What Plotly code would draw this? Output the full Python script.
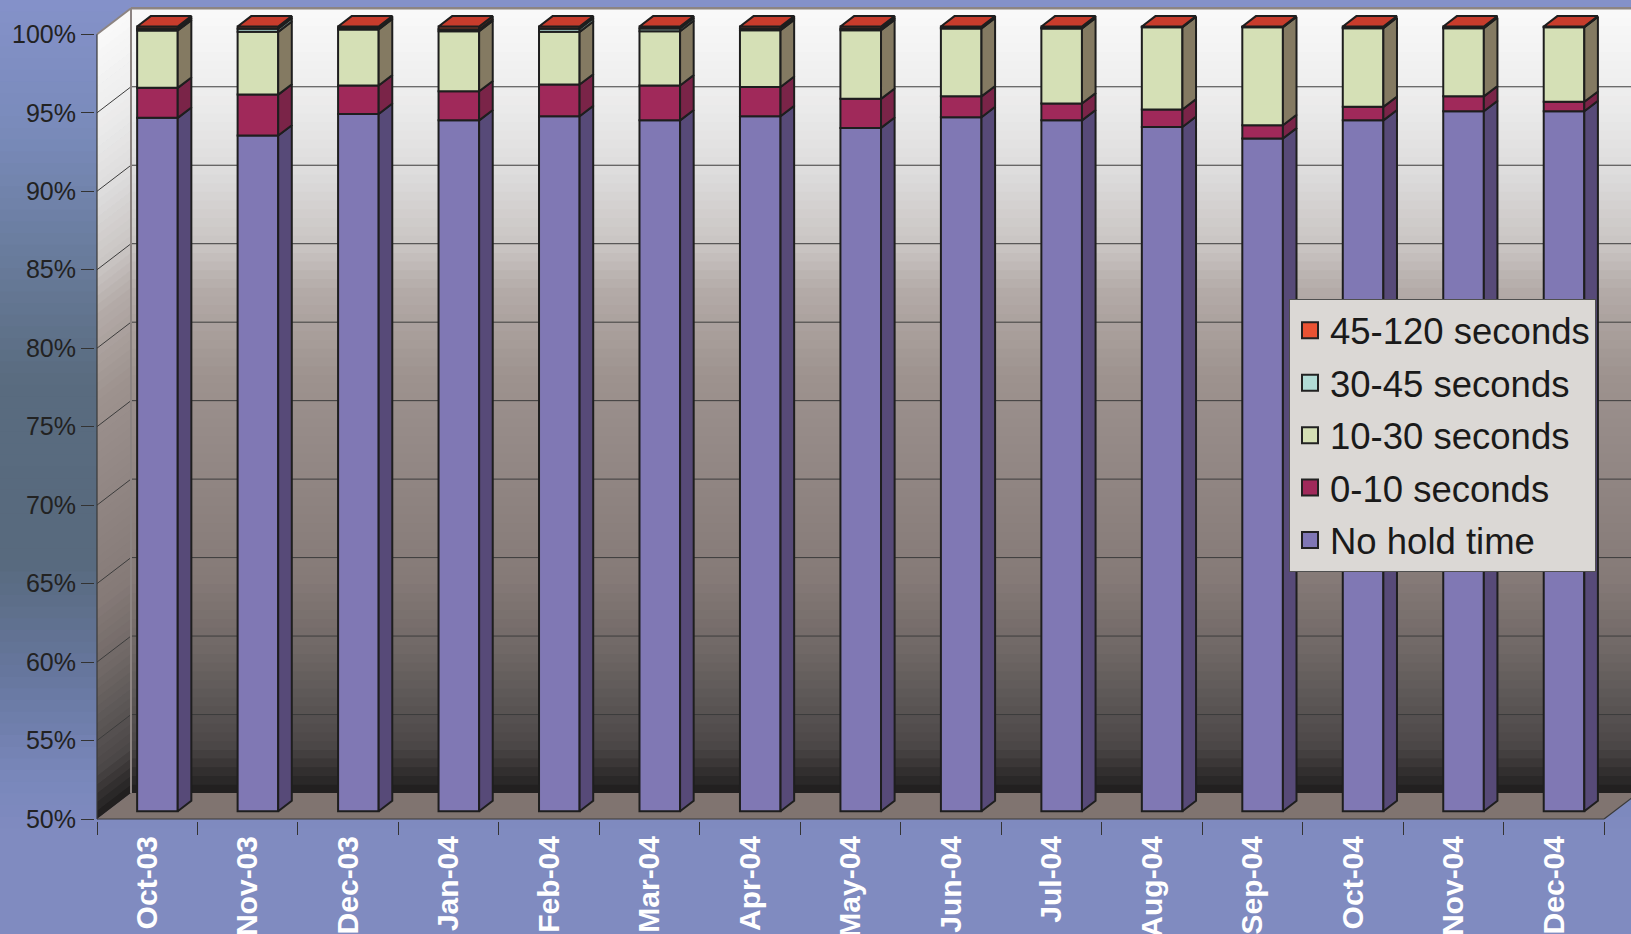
import numpy as np
import plotly.graph_objects as go

# ---------------- data ----------------
months = ["Oct-03", "Nov-03", "Dec-03", "Jan-04", "Feb-04", "Mar-04", "Apr-04", "May-04",
          "Jun-04", "Jul-04", "Aug-04", "Sep-04", "Oct-04", "Nov-04", "Dec-04"]
no_hold = [94.18, 93.05, 94.43, 94.02, 94.28, 94.02, 94.28, 93.54, 94.22, 94.02, 93.60, 92.86, 94.02, 94.60, 94.60]
sec_0_10 = [1.91, 2.61, 1.81, 1.85, 2.02, 2.22, 1.87, 1.85, 1.33, 1.07, 1.11, 0.85, 0.86, 0.95, 0.60]
sec_10_30 = [3.65, 4.00, 3.57, 3.83, 3.36, 3.46, 3.61, 4.37, 4.32, 4.78, 5.24, 6.24, 5.01, 4.34, 4.75]
sec_30_45 = [0.12, 0.20, 0.08, 0.12, 0.20, 0.18, 0.10, 0.10, 0.05, 0.05, 0.02, 0.02, 0.05, 0.05, 0.02]
sec_45_120 = [0.14, 0.14, 0.11, 0.18, 0.14, 0.12, 0.14, 0.14, 0.08, 0.08, 0.03, 0.03, 0.06, 0.06, 0.03]
y_tick_vals = [50, 55, 60, 65, 70, 75, 80, 85, 90, 95, 100]
y_tick_text = ["50%", "55%", "60%", "65%", "70%", "75%", "80%", "85%", "90%", "95%", "100%"]

series_names = ["No hold time", "0-10 seconds", "10-30 seconds", "30-45 seconds", "45-120 seconds"]
series_values = [no_hold, sec_0_10, sec_10_30, sec_30_45, sec_45_120]
front_colors = ["#8078b4", "#a0295a", "#d5e0b6", "#b3dcd6", "#e8502f"]
side_colors = ["#574a78", "#7a2448", "#847a62", "#7e9a96", "#a83820"]
top_color = "#c83c2c"
legend_colors = ["#8077b5", "#a0295a", "#d5e0b5", "#b2dcd6", "#ea5232"]

# ---------------- geometry (pixels -> axis units) ----------------
W, H = 1631, 934
ML, MR, MT, MB = 95, 0, 6, 113
PX_CAT = 100.47          # px per category slot
PX_PCT = 15.694          # px per percentage point
X0_PX, Y50_PX = 97, 819  # pixel of the front-left corner
XR = [-0.5 - (X0_PX - ML) / PX_CAT, -0.5 + (W - MR - X0_PX) / PX_CAT]
YR = [50 - (H - MB - Y50_PX) / PX_PCT, 50 + (Y50_PX - MT) / PX_PCT]
DX, DY = 34 / PX_CAT, 26 / PX_PCT          # full depth of the box
BAR_W = 0.404
BAR_FX, BAR_FY = 0.3 * DX, 0.3 * DY        # bar front face depth
SDX, SDY = 0.4 * DX, 0.4 * DY              # bar depth
XL = -0.5
XRt = XL + len(months)
EDGE = "#1e1e1e"

n = len(months)
idx = list(range(n))

fig = go.Figure()

# ---------------- bars (front faces) ----------------
cum = np.full(n, 50.0)
bottoms, tops = [], []
for name, vals, fc in zip(series_names, series_values, front_colors):
    vals = np.array(vals, dtype=float)
    start = cum.copy()
    end = cum + vals if name != "No hold time" else vals.copy()
    fig.add_trace(go.Bar(
        x=idx, y=end - start, base=start + BAR_FY, width=BAR_W, offset=BAR_FX - BAR_W / 2,
        marker=dict(color=fc, line=dict(color=EDGE, width=2)),
        name=name, showlegend=False, hoverinfo="skip"))
    bottoms.append(start + BAR_FY)
    tops.append(end + BAR_FY)
    cum = end

# ---------------- side faces ----------------
for k, sc in enumerate(side_colors):
    xs, ys = [], []
    for i in idx:
        xr = i + BAR_FX + BAR_W / 2
        b, t = bottoms[k][i], tops[k][i]
        xs += [xr, xr + SDX, xr + SDX, xr, xr, None]
        ys += [b, b + SDY, t + SDY, t, b, None]
    fig.add_trace(go.Scatter(x=xs, y=ys, mode="lines", fill="toself", fillcolor=sc,
                             line=dict(color=EDGE, width=2), showlegend=False, hoverinfo="skip"))

# ---------------- top faces ----------------
xs, ys = [], []
for i in idx:
    xl = i + BAR_FX - BAR_W / 2
    xr = i + BAR_FX + BAR_W / 2
    T = tops[-1][i]
    xs += [xl, xr, xr + SDX, xl + SDX, xl, None]
    ys += [T, T, T + SDY, T + SDY, T, None]
fig.add_trace(go.Scatter(x=xs, y=ys, mode="lines", fill="toself", fillcolor=top_color,
                         line=dict(color=EDGE, width=2), showlegend=False, hoverinfo="skip"))

# ---------------- legend entries ----------------
for k in reversed(range(len(series_names))):
    fig.add_trace(go.Scatter(
        x=[None], y=[None], mode="markers", name=series_names[k], legendgroup=series_names[k],
        marker=dict(symbol="square", size=16, color=legend_colors[k], line=dict(color="#222", width=2))))

# ---------------- decoration shapes ----------------
shapes = []

def interp_color(stops, p):
    ps = [s[0] for s in stops]
    r = np.interp(p, ps, [s[1][0] for s in stops])
    g = np.interp(p, ps, [s[1][1] for s in stops])
    b = np.interp(p, ps, [s[1][2] for s in stops])
    return f"rgb({int(r)},{int(g)},{int(b)})"

bg_stops = [(0, (133, 146, 202)), (130, (122, 139, 187)), (250, (106, 125, 158)), (380, (90, 108, 128)),
            (560, (88, 106, 126)), (680, (104, 120, 160)), (780, (122, 136, 188)), (830, (128, 139, 192)),
            (934, (128, 139, 192))]
NB = 80
for k in range(NB):
    p0 = k * H / NB
    p1 = (k + 1) * H / NB
    shapes.append(dict(type="rect", xref="paper", yref="paper", layer="below",
                       x0=(0 - ML) / (W - ML - MR) - 0.01, x1=1.01,
                       y0=(H - MB - p1 - 0.5) / (H - MT - MB), y1=(H - MB - p0 + 0.5) / (H - MT - MB),
                       fillcolor=interp_color(bg_stops, (p0 + p1) / 2), line=dict(width=0)))

wall_stops = [(8, (250, 250, 250)), (90, (238, 238, 238)), (170, (222, 221, 221)), (250, (200, 195, 193)),
              (290, (180, 171, 168)), (380, (157, 146, 142)), (480, (145, 134, 131)), (580, (133, 122, 119)),
              (650, (112, 104, 102)), (700, (92, 87, 86)), (745, (76, 72, 72)), (770, (52, 49, 49)),
              (793, (30, 29, 29))]
NW = 90
wb, wt = 50 + DY, 100 + DY
for k in range(NW):
    y0 = wb + (wt - wb) * k / NW
    y1 = wb + (wt - wb) * (k + 1) / NW
    pm = Y50_PX - ((y0 + y1) / 2 - 50) * PX_PCT
    col = interp_color(wall_stops, pm)
    ov = 0.03
    shapes.append(dict(type="rect", xref="x", yref="y", layer="below",
                       x0=XL + DX, x1=XR[1] + 1, y0=y0 - ov, y1=y1 + ov,
                       fillcolor=col, line=dict(width=0)))
    shapes.append(dict(type="path", xref="x", yref="y", layer="below",
                       path=f"M {XL},{y0 - DY - ov} L {XL + DX},{y0 - ov} L {XL + DX},{y1 + ov} L {XL},{y1 - DY + ov} Z",
                       fillcolor=col, line=dict(width=0)))

# floor
shapes.append(dict(type="path", xref="x", yref="y", layer="below",
                   path=f"M {XL},50 L {XRt},50 L {XRt + DX},{50 + DY} L {XL + DX},{50 + DY} Z",
                   fillcolor="#807470", line=dict(width=0)))

def seg(x0, y0, x1, y1, color, width):
    shapes.append(dict(type="line", xref="x", yref="y", layer="below",
                       x0=x0, y0=y0, x1=x1, y1=y1, line=dict(color=color, width=width)))

# gridlines on back wall and side wall
for v in y_tick_vals[1:-1]:
    seg(XL + DX, v + DY, XR[1] + 1, v + DY, "#3c3c3c", 1)
    seg(XL, v, XL + DX, v + DY, "#3c3c3c", 1)

# box edges
seg(XL + DX, 100 + DY, XR[1] + 1, 100 + DY, "#8c8482", 2.5)
seg(XL, 100, XL + DX, 100 + DY, "#8c8482", 2)
seg(XL + DX, 50 + DY, XL + DX, 100 + DY, "#8c8482", 2)
seg(XL, 50, XL, 100, "#3a3a3a", 1.2)
seg(XL, 50, XRt, 50, "#3a3a3a", 1.2)
seg(XRt, 50, XRt + DX, 50 + DY, "#3a3a3a", 1.2)

fig.update_layout(
    width=W, height=H,
    margin=dict(l=ML, r=MR, t=MT, b=MB, pad=0),
    paper_bgcolor="#808bc0",
    plot_bgcolor="rgba(0,0,0,0)",
    barmode="overlay",
    shapes=shapes,
    showlegend=True,
    legend=dict(x=(1289 - ML) / (W - ML - MR), y=(H - MB - 299) / (H - MT - MB), xanchor="left", yanchor="top",
                bgcolor="#dbd8d5", bordercolor="#505050", borderwidth=1, tracegroupgap=2,
                font=dict(family="Liberation Sans, Arial, sans-serif", size=36.5, color="#1a1a1a")),
    xaxis=dict(range=XR, tickmode="array", tickvals=idx, ticktext=months, ticks="",
               tickangle=-90, showgrid=False, zeroline=False, showline=False, automargin=False,
               ticklabelstandoff=8,
               tickfont=dict(family="Liberation Sans, Arial, sans-serif", size=30, color="white", weight="bold"),
               minor=dict(tickmode="linear", tick0=-0.5, dtick=1, ticks="outside", ticklen=13,
                          tickcolor="#333", tickwidth=1, showgrid=False)),
    yaxis=dict(range=YR, tickmode="array", tickvals=y_tick_vals, ticktext=y_tick_text,
               ticks="outside", ticklen=13, tickcolor="#333", tickwidth=1,
               showgrid=False, zeroline=False, showline=False, automargin=False,
               tickfont=dict(family="Liberation Sans, Arial, sans-serif", size=25, color="#222")),
)

fig.write_html("out.html")
